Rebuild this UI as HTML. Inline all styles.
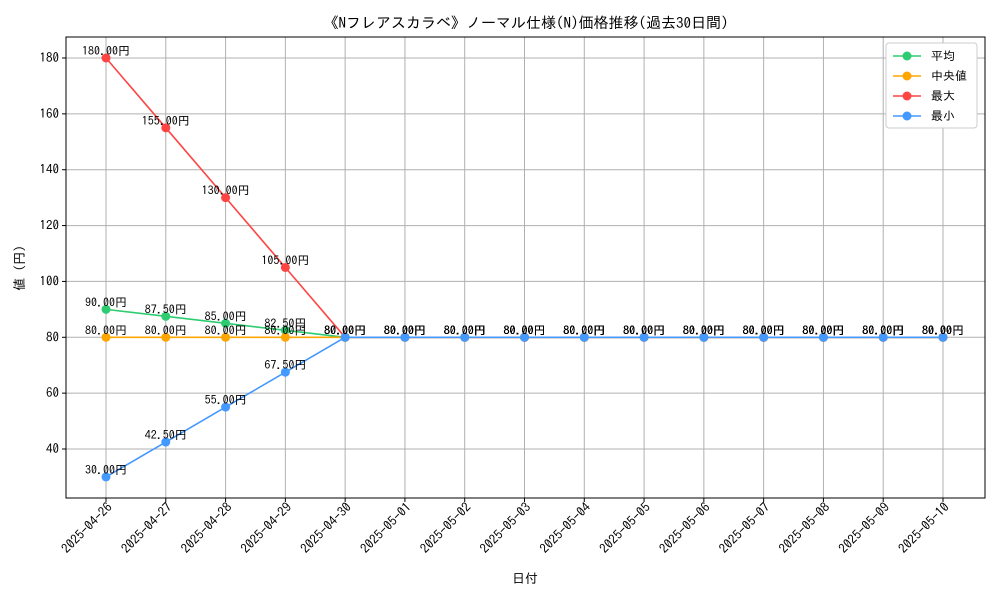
<!DOCTYPE html>
<html><head><meta charset="utf-8">
<style>
html,body{margin:0;padding:0;background:#fff;}
svg text{font-family:"IPAGothic","Liberation Sans","Noto Sans CJK JP",sans-serif;}
</style></head>
<body>
<svg id="chart" width="1000" height="600" xmlns="http://www.w3.org/2000/svg">
<rect x="0" y="0" width="1000" height="600" fill="#fff"/>
<text x="526" y="28" font-size="15" text-anchor="middle">《Nフレアスカラベ》ノーマル仕様(N)価格推移(過去30日間)</text>
<g id="grid"></g>
<g id="axes"></g>
<g id="series"></g>
<g id="labels"></g>
<text x="24" y="268" font-size="13" text-anchor="middle" transform="rotate(-90 24 268)">値 (円)</text>
<text x="525" y="583" font-size="13" text-anchor="middle">日付</text>
<g id="legend"></g>
</svg>
<script>
const categories=["2025-04-26","2025-04-27","2025-04-28","2025-04-29","2025-04-30","2025-05-01","2025-05-02","2025-05-03","2025-05-04","2025-05-05","2025-05-06","2025-05-07","2025-05-08","2025-05-09","2025-05-10"];
const avgValues=[90,87.5,85,82.5,80,80,80,80,80,80,80,80,80,80,80];
const medianValues=[80,80,80,80,80,80,80,80,80,80,80,80,80,80,80];
const maxValues=[180,155,130,105,80,80,80,80,80,80,80,80,80,80,80];
const minValues=[30,42.5,55,67.5,80,80,80,80,80,80,80,80,80,80,80];
const yTicks=[40,60,80,100,120,140,160,180];
const seriesNames=["平均","中央値","最大","最小"];

const NS="http://www.w3.org/2000/svg";
const L=66,R=985,T=37,B=498;
function xs(i){return 106+i*(943-106)/(categories.length-1);}
function ys(v){return 449-(v-40)*(449-58)/140;}
function mk(tag,attrs,parent){const e=document.createElementNS(NS,tag);for(const k in attrs)e.setAttribute(k,attrs[k]);parent.appendChild(e);return e;}
const grid=document.getElementById('grid'),axes=document.getElementById('axes'),ser=document.getElementById('series'),lab=document.getElementById('labels'),leg=document.getElementById('legend');
categories.forEach((c,i)=>{
  const x=xs(i);
  const g=mk('line',{x1:x,x2:x,y1:T,y2:B,stroke:'#b0b0b0','stroke-width':1},grid);
  
  
  const tk=mk('line',{x1:x,x2:x,y1:B,y2:B+4,stroke:'#000'},axes);
  
  
  const ax=x+7, ay=B+10;
  const t=mk('text',{x:ax,y:ay,'font-size':13,'text-anchor':'end',transform:`rotate(-45 ${ax} ${ay})`},axes);
  
  
  t.textContent=c;
});
yTicks.forEach(v=>{
  const y=ys(v);
  const g=mk('line',{x1:L,x2:R,y1:y,y2:y,stroke:'#b0b0b0','stroke-width':1},grid);
  
  
  const tk=mk('line',{x1:L-4,x2:L,y1:y,y2:y,stroke:'#000'},axes);
  
  
  const t=mk('text',{x:L-7,y:y+4,'font-size':13,'text-anchor':'end'},axes);
  
  
  t.textContent=v;
});
const frame=mk('rect',{x:L,y:T,width:R-L,height:B-T,fill:'none',stroke:'#000','stroke-width':1},axes);


const all=[[avgValues,'#2ecc71','avg'],[medianValues,'#ffa500','median'],[maxValues,'#ff4444','max'],[minValues,'#4499ff','min']];
all.forEach(([vals,col,key])=>{
  const pl=mk('polyline',{points:vals.map((v,i)=>xs(i)+','+ys(v)).join(' '),fill:'none',stroke:col,'stroke-width':1.6},ser);
  
  
  vals.forEach((v,i)=>{
    const c=mk('circle',{cx:xs(i),cy:ys(v),r:4.5,fill:col},ser);
    
    
    const t=mk('text',{x:xs(i),y:ys(v)-3,'font-size':12,'text-anchor':'middle'},lab);
    
    
    t.textContent=v.toFixed(2)+'円';
  });
});
const lb=mk('rect',{x:886,y:43,width:91,height:85,fill:'#fff',stroke:'#ccc',rx:3},leg);


all.forEach(([vals,col,key],i)=>{
  const y=56+i*20;
  const g=mk('g',{},leg);
  
  
  mk('line',{x1:893,x2:921,y1:y,y2:y,stroke:col,'stroke-width':1.6},g);
  mk('circle',{cx:907,cy:y,r:4.5,fill:col},g);
  const t=mk('text',{x:931,y:y+4,'font-size':12},g);
  t.textContent=(key==='median'?' ':'')+seriesNames[i];
});
</script>
</body></html>
